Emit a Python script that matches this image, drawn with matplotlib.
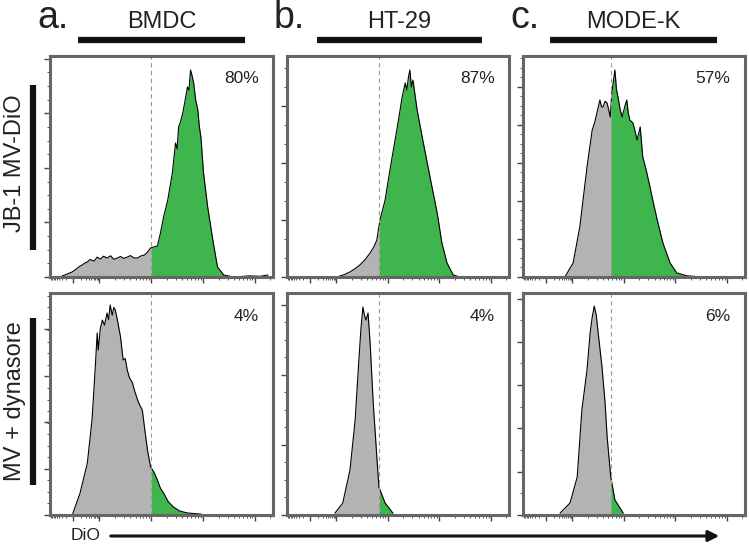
import numpy as np
import matplotlib
matplotlib.use("Agg")
import matplotlib.pyplot as plt
from matplotlib.lines import Line2D
from matplotlib.patches import FancyArrowPatch

plt.rcParams['font.family'] = ['Liberation Sans', 'DejaVu Sans']

W, H = 749, 545

cell_lines = ["BMDC", "HT-29", "MODE-K"]
panel_letters = ["a.", "b.", "c."]
row_labels = ["JB-1 MV-DiO", "MV + dynasore"]

# DiO histograms: x in log decades, y in % of axis height
a_top_x = [-0.76, -0.52, -0.45, -0.38, -0.33, -0.28, -0.23, -0.18, -0.10, -0.04, 0.02, 0.08,
           0.15, 0.22, 0.28, 0.35, 0.41, 0.47, 0.54, 0.60, 0.67, 0.74, 0.80, 0.87, 0.93, 0.99,
           1.05, 1.12, 1.18, 1.24, 1.32, 1.41, 1.47, 1.50, 1.53, 1.57, 1.61, 1.66, 1.70, 1.73,
           1.76, 1.79, 1.82, 1.86, 1.90, 1.93, 1.96, 2.01, 2.09, 2.19, 2.28, 2.40, 2.59, 2.90,
           3.10, 3.25]
a_top_y = [0.0, 2.3, 3.5, 4.8, 5.4, 6.3, 6.8, 7.9, 7.2, 9.0, 8.1, 9.4,
           8.6, 9.6, 8.0, 8.6, 9.3, 8.4, 9.0, 9.7, 8.6, 8.6, 9.5, 9.9, 11.3, 13.1,
           13.6, 14.0, 19.9, 27.1, 34.8, 47.1, 60.6, 58.0, 67.9, 70.5, 74.2, 80.5, 86.0, 84.5,
           93.7, 91.0, 87.8, 80.0, 75.6, 68.0, 63.3, 47.1, 31.7, 16.7, 4.5, 0.9, 0.0, 0.5,
           0.3, 0.9]

a_bot_x = [-0.52, -0.37, -0.23, -0.14, -0.08, -0.04, -0.02, 0.02, 0.06, 0.10, 0.15, 0.18,
           0.21, 0.25, 0.28, 0.31, 0.35, 0.38, 0.41, 0.46, 0.50, 0.54, 0.58, 0.64, 0.68, 0.74,
           0.78, 0.83, 0.88, 0.93, 0.99, 1.05, 1.12, 1.18, 1.24, 1.33, 1.43, 1.55, 1.70, 1.96]
a_bot_y = [0.0, 9.9, 23.4, 42.8, 65.3, 82.0, 74.3, 84.0, 87.8, 85.5, 91.0, 88.0,
           94.6, 90.0, 93.5, 92.3, 87.8, 84.0, 80.2, 69.8, 70.5, 65.3, 62.0, 59.5, 56.0, 51.8,
           49.5, 47.3, 38.0, 29.3, 21.6, 19.5, 15.8, 12.0, 9.9, 6.0, 3.6, 1.8, 0.9, 0.4]

b_top_x = [0.02, 0.15, 0.27, 0.37, 0.46, 0.56, 0.66, 0.73, 0.79, 0.85, 0.95, 1.02, 1.10,
           1.20, 1.28, 1.34, 1.37, 1.40, 1.43, 1.46, 1.49, 1.57, 1.68, 1.82, 1.96, 2.05,
           2.15, 2.27, 2.40]
b_top_y = [0.0, 1.0, 2.3, 3.8, 5.4, 7.8, 10.9, 13.5, 16.7, 25.8, 34.8, 45.0, 56.1,
           69.7, 81.4, 87.8, 84.6, 90.0, 93.7, 86.0, 89.1, 75.6, 62.0, 45.2, 28.9, 15.4,
           6.3, 0.9, 0.0]

c_top_x = [-0.14, 0.02, 0.15, 0.29, 0.39, 0.44, 0.48, 0.54, 0.57, 0.60, 0.64, 0.68, 0.74,
           0.77, 0.83, 0.86, 0.89, 0.93, 0.97, 1.02, 1.06, 1.09, 1.12, 1.18, 1.22, 1.26,
           1.32, 1.37, 1.44, 1.51, 1.58, 1.65, 1.76, 1.90, 2.03, 2.23, 2.54]
c_top_y = [0.0, 6.3, 22.6, 49.8, 66.5, 70.0, 74.2, 80.1, 77.0, 76.9, 79.5, 78.7, 72.4,
           83.3, 93.7, 85.0, 81.4, 76.0, 72.4, 77.0, 80.1, 74.0, 71.0, 69.7, 66.0, 62.0,
           67.9, 54.3, 48.0, 40.7, 33.0, 25.8, 15.4, 6.3, 1.8, 0.5, 0.0]

b_bot_x = [-0.02, 0.13, 0.27, 0.37, 0.43, 0.48, 0.52, 0.55, 0.58, 0.62, 0.66, 0.72, 0.79,
           0.83, 0.95, 1.10]
b_bot_y = [0.9, 5.4, 20.3, 42.8, 65.3, 83.3, 93.7, 90.0, 87.8, 91.0, 77.5, 50.5, 26.1,
           12.6, 5.4, 0.9]

c_bot_x = [-0.23, -0.04, 0.10, 0.19, 0.29, 0.35, 0.39, 0.43, 0.47, 0.50, 0.58, 0.64, 0.68,
           0.75, 0.83, 0.99]
c_bot_y = [0.9, 5.4, 17.1, 47.3, 65.3, 82.0, 89.0, 94.1, 90.0, 83.3, 66.7, 50.5, 35.1,
           17.1, 6.8, 0.9]

gates = [[1.0, 0.84, 0.75], [1.0, 0.84, 0.75]]
percents = [["80%", "87%", "57%"], ["4%", "4%", "6%"]]
hists = [[(a_top_x, a_top_y), (b_top_x, b_top_y), (c_top_x, c_top_y)],
         [(a_bot_x, a_bot_y), (b_bot_x, b_bot_y), (c_bot_x, c_bot_y)]]
# y tick layout per panel: (major step, minor step)
yticks = [[(24.7, 6.17), (25.8, 8.6), (17.2, 4.3)],
          [(20.9, 5.2), (31.5, 7.9), (19.5, 9.75)]]

col_px = [(50, 273), (287, 509), (523, 745)]
row_px = [(56, 277), (293, 515)]

GREY = "#b3b3b3"
GREEN = "#3fb54d"
FRAME = "#666666"
XMIN, XMAX = -0.95, 3.35

fig = plt.figure(figsize=(W / 100, H / 100), dpi=100)


def fx(px):
    return px / W


def fy(py):
    return 1 - py / H


# x ticks mimic a logicle scale
x_major = [-0.5, 0, 1, 2, 3]
x_minor = [-0.5 - 0.45 * np.log10(k) for k in range(2, 10)]
x_minor += [-0.5 + 0.5 * np.log10(k) for k in range(2, 10)]
for d in range(0, 3):
    x_minor += [d + np.log10(k) for k in range(2, 10)]
x_minor += [3 + np.log10(2)]

for r in range(2):
    for c in range(3):
        l, rt = col_px[c]
        t, b = row_px[r]
        ax = fig.add_axes([fx(l), fy(b), (rt - l) / W, (b - t) / H])
        x, y = hists[r][c]
        x = np.array(x)
        y = np.array(y)
        g = gates[r][c]
        yg = np.interp(g, x, y)
        left = x < g
        xl = np.append(x[left], g)
        yl = np.append(y[left], yg)
        xr = np.insert(x[~left], 0, g)
        yr = np.insert(y[~left], 0, yg)
        ax.fill_between(xl, 0, yl, color=GREY, lw=0)
        ax.fill_between(xr, 0, yr, color=GREEN, lw=0)
        ax.plot(x, y, color="black", lw=0.8)
        ax.axvline(g, color="#999999", lw=0.8, ls=(0, (4, 3)))
        ax.set_xlim(XMIN, XMAX)
        ax.set_ylim(0, 100)
        ax.text(0.935, 0.93, percents[r][c], transform=ax.transAxes, ha="right", va="top",
                fontsize=12.5, color="#222222")

        ax.set_xticks(x_major)
        ax.set_xticks(x_minor, minor=True)
        maj, mnr = yticks[r][c]
        ax.set_yticks(np.arange(0, 100.1, maj))
        ax.set_yticks(np.arange(0, 100.1, mnr), minor=True)
        ax.set_xticklabels([])
        ax.set_yticklabels([])
        ax.tick_params(which="major", length=4, width=1.0, color="#444444", direction="out")
        ax.tick_params(which="minor", length=2.2, width=0.7, color="#555555", direction="out")
        for s in ax.spines.values():
            s.set_color(FRAME)
            s.set_linewidth(2.2)

# column headers
letter_px = [53, 289, 525]
bar_px = [(78, 245), (317, 482), (550, 717)]
for c in range(3):
    fig.text(fx(letter_px[c]), fy(18), panel_letters[c], fontsize=27, ha="center",
             va="center", color="#222222")
    x0, x1 = bar_px[c]
    fig.text(fx((x0 + x1) / 2), fy(22), cell_lines[c], fontsize=17, ha="center",
             va="center", color="#222222")
    fig.add_artist(Line2D([fx(x0), fx(x1)], [fy(40), fy(40)], color="#111111",
                          lw=4.5, solid_capstyle="butt"))

# row labels
row_text_px = [(15, 163), (15, 401)]
row_bar_px = [(85, 250), (318, 485)]
for r in range(2):
    tx, ty = row_text_px[r]
    fig.text(fx(tx), fy(ty), row_labels[r], fontsize=17, rotation=90, ha="center",
             va="center", color="#222222")
    y0, y1 = row_bar_px[r]
    fig.add_artist(Line2D([fx(33), fx(33)], [fy(y0), fy(y1)], color="#111111",
                          lw=4.5, solid_capstyle="butt"))

# x axis label with arrow
fig.text(fx(86), fy(536), "DiO", fontsize=12.5, ha="center", va="center", color="#222222")
fig.add_artist(FancyArrowPatch((fx(108), fy(536)), (fx(722), fy(536)),
                               transform=fig.transFigure, arrowstyle="-|>",
                               mutation_scale=16, lw=2.2, color="#111111"))

fig.savefig("out.png", dpi=100)
